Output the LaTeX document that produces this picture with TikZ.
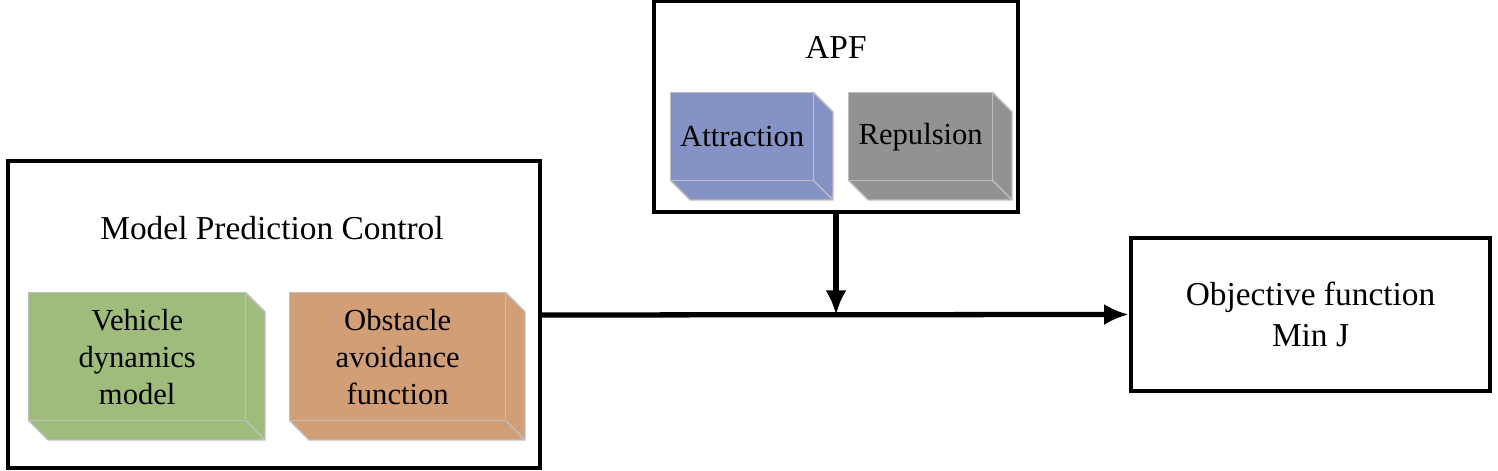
\documentclass[tikz,border=0pt]{standalone}
\usepackage{fontspec}
\setmainfont{Liberation Serif}
\usetikzlibrary{positioning,arrows.meta}
\definecolor{attrblue}{RGB}{133,146,198}
\definecolor{repgray}{RGB}{146,146,146}
\definecolor{vehgreen}{RGB}{160,188,124}
\definecolor{obsorange}{RGB}{210,158,118}
\tikzset{
  frame/.style={draw=black, line width=1.2pt, fill=white},
  title/.style={font=\fontsize{9.5}{11.5}\selectfont, align=center},
  face/.style={draw=black!25, line width=0.4pt, inner sep=0pt, align=center,
    font=\fontsize{8.7}{10.5}\selectfont},
  link/.style={line width=1.5pt, -{Latex[length=7pt,width=6pt]}}
}
\begin{document}
\begin{tikzpicture}[x=0.01cm, y=-0.01cm]
  \useasboundingbox (0,0) rectangle (1498,471);

  % outer frames
  \draw[frame] (8,161) rectangle (540,468);
  \draw[frame] (654,1) rectangle (1018,212);
  \node[frame, title, minimum width=3.59cm, minimum height=1.53cm] (obj) at (1310.5,314.5)
    {Objective function\\Min J};
  \node[title] (mpc) at (272,228) {Model Prediction Control};
  \node[title] (apf) at (836,47) {APF};

  % 3D blocks (front face, then bevelled side)
  \foreach \name/\col/\xa/\ya/\xb/\yb/\txt in {
      att/attrblue/670/92/813/180/Attraction,
      rep/repgray/848/92/992/180/Repulsion,
      veh/vehgreen/28/292/245/420/{Vehicle\\dynamics\\model},
      obs/obsorange/289/292/505/420/{Obstacle\\avoidance\\function}} {
    \fill[\col] (\xb,\ya) -- (\xb+20,\ya+20) -- (\xb+20,\yb+20) -- (\xa+20,\yb+20)
      -- (\xa,\yb) -- cycle;
    \draw[black!25, line width=0.4pt] (\xb,\ya) -- (\xb+20,\ya+20) -- (\xb+20,\yb+20)
      -- (\xa+20,\yb+20) -- (\xa,\yb) (\xb,\yb) -- (\xb+20,\yb+20);
    \node[face, fill=\col, minimum width=(\xb-\xa)*0.01cm, minimum height=(\yb-\ya)*0.01cm,
      anchor=north west] (\name) at (\xa,\ya) {\txt};
  }

  % connectors
  \coordinate (mpcout) at (540,315);
  \coordinate (join) at (836,315);
  \coordinate (apfout) at (836,212);
  \draw[link] (mpcout) -- (obj.west);
  \draw[link] (apfout) -- (join);
\end{tikzpicture}
\end{document}
